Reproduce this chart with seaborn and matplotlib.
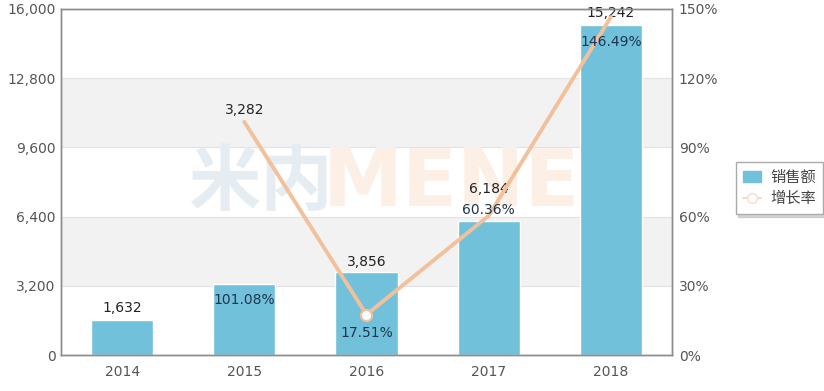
import matplotlib
matplotlib.use("Agg")
import matplotlib.pyplot as plt
import seaborn as sns
import pandas as pd
from matplotlib.patches import Patch
from matplotlib.lines import Line2D

# data
years = ["2014", "2015", "2016", "2017", "2018"]
sales = [1632, 3282, 3856, 6184, 15242]
rate_years = ["2015", "2016", "2017", "2018"]
rates = [101.08, 17.51, 60.36, 146.49]
sales_ticks = [0, 3200, 6400, 9600, 12800, 16000]
rate_ticks = [0, 30, 60, 90, 120, 150]

sns.set_theme(style="white")
plt.rcParams['font.family'] = ['DejaVu Sans', 'Noto Sans CJK SC']

bar_color = "#72C1DB"
line_color = "#F3C09C"
tick_color = "#555555"
frame_color = "#8C8C8C"

df = pd.DataFrame({"year": years, "sales": sales})
rdf = pd.DataFrame({"pos": [years.index(y) for y in rate_years], "rate": rates})

fig = plt.figure(figsize=(8.24, 3.91), dpi=100)
ax = fig.add_axes([0.074, 0.092, 0.7415, 0.885])

# alternating background bands
for i in range(len(sales_ticks) - 1):
    if i % 2 == 1:
        ax.axhspan(sales_ticks[i], sales_ticks[i + 1], color="#F2F2F2", zorder=0, lw=0)
for t in sales_ticks[1:-1]:
    ax.axhline(t, color="#E2E2E2", lw=0.8, zorder=0.5)

sns.barplot(data=df, x="year", y="sales", color=bar_color, width=0.51,
            saturation=1, ax=ax, zorder=2)
ax.set_ylim(0, 16000)
ax.set_yticks(sales_ticks)
ax.set_yticklabels([f"{v:,}" for v in sales_ticks])
ax.set_xlim(-0.5, 4.5)
ax.set_xlabel("")
ax.set_ylabel("")
ax.tick_params(axis="both", colors=tick_color, labelsize=10, length=0, pad=4)
ax.tick_params(axis="x", pad=7)
for s in ax.spines.values():
    s.set_color(frame_color)
    s.set_linewidth(1.0)

# watermark
ax.text(0.54, 7900, "米内", fontsize=52, color="#E6EDF2", ha="left", va="center",
        family=['Noto Sans CJK SC'], fontweight="bold", zorder=1)
ax.text(1.64, 7900, "MENET", fontsize=58, color="#FCEFE5", ha="left", va="center",
        fontweight="bold", zorder=1)

ax2 = ax.twinx()
sns.lineplot(data=rdf, x="pos", y="rate", color=line_color, lw=2.8, ax=ax2,
             marker="o", markevery=[1], markersize=8, markerfacecolor="white",
             markeredgecolor=line_color, markeredgewidth=1.5, zorder=3)
ax2.set_ylim(0, 150)
ax2.set_yticks(rate_ticks)
ax2.set_yticklabels([f"{v}%" for v in rate_ticks])
ax2.set_xlim(-0.5, 4.5)
ax2.set_xlabel("")
ax2.set_ylabel("")
ax2.tick_params(axis="y", colors=tick_color, labelsize=10, length=0, pad=5)
for s in ax2.spines.values():
    s.set_color(frame_color)
    s.set_linewidth(1.0)

# value labels (sales axis units)
sales_label_y = [2180, 11330, 4300, 7680, 15800]
for i, v in enumerate(sales):
    ax.text(i, sales_label_y[i], f"{v:,}", ha="center", va="center", fontsize=10,
            color="#222222", zorder=5)

# rate labels (rate axis units)
rate_label_y = [23.8, 9.5, 63.0, 135.7]
for j, r in enumerate(rates):
    ax2.text(rdf["pos"][j], rate_label_y[j], f"{r:.2f}%", ha="center", va="center",
             fontsize=10, color="#1E3550", zorder=5)

handles = [Patch(facecolor=bar_color, edgecolor=bar_color),
           Line2D([0], [0], color="#F5DCC8", lw=1.5, marker="o", markersize=7,
                  markerfacecolor="white", markeredgecolor="#F5DCC8")]
leg = fig.legend(handles, ["销售额", "增长率"], loc="upper left",
                 bbox_to_anchor=(0.8835, 0.606),
                 prop={"family": ["Noto Sans CJK SC"], "size": 11},
                 handlelength=1.2, handletextpad=0.6, borderpad=0.45,
                 labelspacing=0.3, fancybox=False, frameon=True,
                 shadow={"color": "#BBBBBB", "alpha": 0.6})
leg.get_frame().set_edgecolor("#AAAAAA")
for t in leg.get_texts():
    t.set_color("#444444")

fig.savefig("out.png", dpi=100, facecolor="white")
